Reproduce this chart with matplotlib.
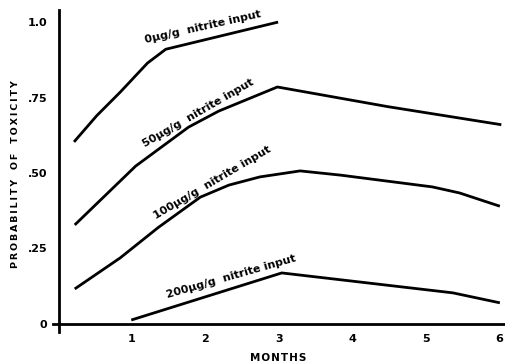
import matplotlib.pyplot as plt

# values (months, probability)
m_0 = [0.21, 0.52, 0.84, 1.21, 1.46, 2.99]
p_0 = [0.603, 0.69, 0.768, 0.864, 0.91, 1.0]

m_50 = [0.22, 1.05, 1.77, 2.18, 2.98, 4.48, 6.03]
p_50 = [0.328, 0.523, 0.652, 0.705, 0.785, 0.72, 0.66]

m_100 = [0.22, 0.84, 1.36, 1.93, 2.32, 2.74, 3.29, 3.84, 5.09, 5.46, 6.01]
p_100 = [0.116, 0.219, 0.32, 0.42, 0.46, 0.487, 0.507, 0.493, 0.454, 0.434, 0.39]

m_200 = [0.99, 3.04, 4.1, 5.37, 6.01]
p_200 = [0.013, 0.169, 0.139, 0.103, 0.07]

y_ticks = [0, 0.25, 0.5, 0.75, 1.0]
y_labels = ["0", ".25", ".50", ".75", "1.0"]
x_ticks = [1, 2, 3, 4, 5, 6]

labels = ["0\u00b5g/g  nitrite input", "50\u00b5g/g  nitrite input",
          "100\u00b5g/g  nitrite input", "200\u00b5g/g  nitrite input"]
label_pos = [(1.97, 0.985), (1.90, 0.70), (2.09, 0.467), (2.35, 0.156)]
label_rot = [12.7, 30, 30.5, 16]

plt.rcParams['font.family'] = ['DejaVu Sans']
plt.rcParams['font.weight'] = 'bold'

fig = plt.figure(figsize=(5.05, 3.63), dpi=100)
ax = fig.add_axes([52.7 / 505, 31.5 / 363, 1 - 52.7 / 505, (353 - 31.5) / 363])

for m, p in [(m_0, p_0), (m_50, p_50), (m_100, p_100), (m_200, p_200)]:
    ax.plot(m, p, color='black', lw=2, solid_capstyle='butt')

for txt, (x, y), r in zip(labels, label_pos, label_rot):
    ax.text(x, y, txt, rotation=r, rotation_mode='anchor', ha='center', va='center',
            fontsize=8, fontweight='bold')

ax.set_xlim(-0.08, 6.08)
ax.set_ylim(-0.025, 1.04)
ax.spines['left'].set_position(('data', 0))
ax.spines['bottom'].set_position(('data', 0))
ax.spines['left'].set_linewidth(2)
ax.spines['bottom'].set_linewidth(2)
ax.spines['top'].set_visible(False)
ax.spines['right'].set_visible(False)

ax.set_yticks(y_ticks, y_labels)
ax.set_xticks(x_ticks)
ax.tick_params(length=0, labelsize=8)
ax.tick_params(axis='y', pad=8)
ax.tick_params(axis='x', pad=7)

thin = "\u2009"
ylab = "   ".join(thin.join(w) for w in ["PROBABILITY", "OF", "TOXICITY"])
fig.text(16 / 505, 1 - 174 / 363, ylab, rotation=90,
         ha='center', va='center', fontsize=6.8, fontweight='bold')
fig.text(278 / 505, 1 - 358 / 363, "\u200a".join("MONTHS"), ha='center', va='center',
         fontsize=7.5, fontweight='bold')

fig.savefig('out.png', dpi=100)
